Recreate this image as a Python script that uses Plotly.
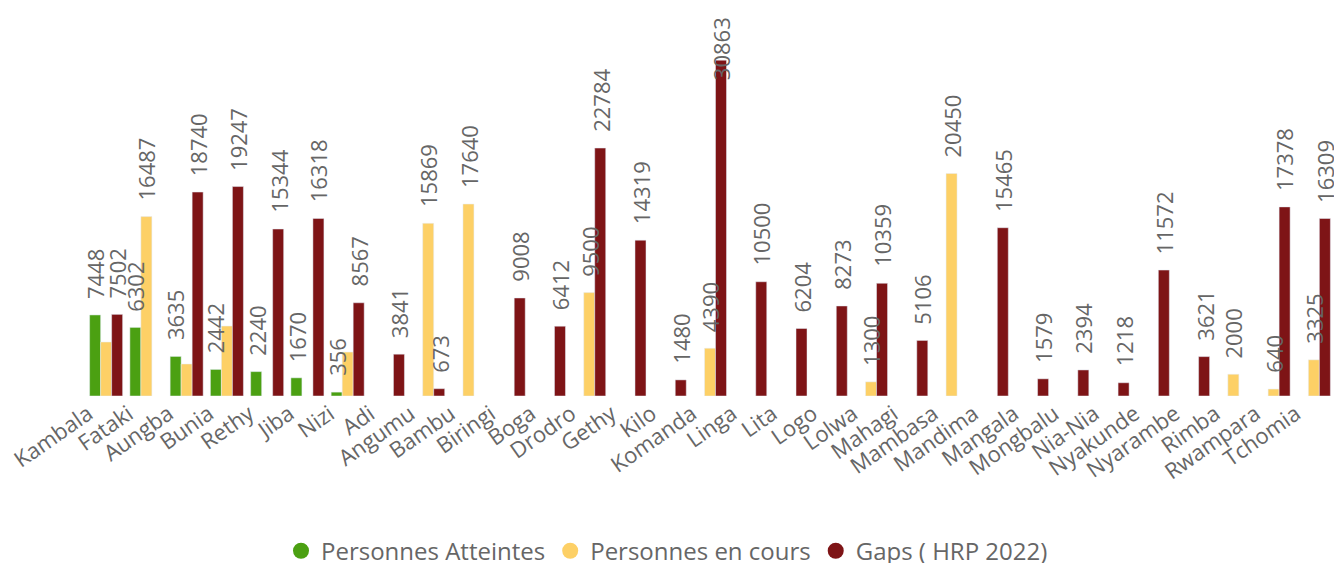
import plotly.graph_objects as go

categories = ["Kambala", "Fataki", "Aungba", "Bunia", "Rethy", "Jiba", "Nizi", "Adi", "Angumu",
              "Bambu", "Biringi", "Boga", "Drodro", "Gethy", "Kilo", "Komanda", "Linga", "Lita",
              "Logo", "Lolwa", "Mahagi", "Mambasa", "Mandima", "Mangala", "Mongbalu", "Nia-Nia",
              "Nyakunde", "Nyarambe", "Rimba", "Rwampara", "Tchomia"]

atteintes = [7448, 6302, 3635, 2442, 2240, 1670, 356, None, None, None, None, None, None, None,
             None, None, None, None, None, None, None, None, None, None, None, None, None, None,
             None, None, None]

en_cours = [4960, 16487, 2940, 6430, None, None, 4040, None, 15869, 17640, None, None, 9500, None,
            None, 4390, None, None, None, 1300, None, 20450, None, None, None, None, None, None,
            2000, 640, 3325]

gaps = [7502, None, 18740, 19247, 15344, 16318, 8567, 3841, 673, None, 9008, 6412, 22784, 14319,
        1480, 30863, 10500, 6204, 8273, 10359, 5106, None, 15465, 1579, 2394, 1218, 11572, 3621,
        None, 17378, 16309]

# data labels that the original chart hid because they overlapped
hidden_labels = {1: ["Kambala", "Aungba", "Bunia", "Nizi"]}
# data label that the original chart pulled down over the bar top (no room above)
overlapping_labels = {2: ["Komanda"]}

names = ["Personnes Atteintes", "Personnes en cours", "Gaps ( HRP 2022)"]
colors = ["#4BA012", "#FDD066", "#7E1416"]

FONT = "Segoe UI, Open Sans, sans-serif"
GREY = "#666666"
BAR_PX = 11.0      # pixel width of one bar inside a group (for label offsets)
LABEL_GAP = 15     # pixel gap between bar end and its label

fig = go.Figure()
series = [atteintes, en_cours, gaps]
for s, (vals, name, col) in enumerate(zip(series, names, colors)):
    fig.add_trace(go.Bar(
        x=categories, y=vals, name=name, marker_color=col,
        showlegend=False, hoverinfo="x+y+name",
    ))
    fig.add_trace(go.Scatter(
        x=[None], y=[None], mode="markers", name=name,
        marker=dict(color=col, size=18, symbol="circle"), showlegend=True,
    ))
    for c, v in zip(categories, vals):
        if v is None or c in hidden_labels.get(s, []):
            continue
        inside = c in overlapping_labels.get(s, [])
        fig.add_annotation(
            x=c, y=v, xref="x", yref="y", text=str(v), textangle=-90, showarrow=False,
            xshift=(s - 1) * BAR_PX,
            yanchor="middle" if inside else "bottom",
            yshift=11 if inside else LABEL_GAP,
            borderpad=0,
            font=dict(family=FONT, size=22, color=GREY),
        )

fig.update_layout(
    width=1334, height=563,
    margin=dict(l=86, r=0, t=0, b=167, autoexpand=False),
    paper_bgcolor="white", plot_bgcolor="white",
    barmode="group", bargap=0.18, bargroupgap=0,
    font=dict(family=FONT, color=GREY),
    legend=dict(orientation="h", xref="container", yref="container", x=0.5, xanchor="center",
                y=0.021, yanchor="middle", font=dict(family=FONT, size=24, color=GREY),
                itemsizing="trace"),
    xaxis=dict(type="category", range=[-0.5, len(categories) - 0.5],
               tickangle=-35, tickfont=dict(family=FONT, size=22, color=GREY), showline=False,
               showgrid=False, ticks="", zeroline=False, ticklabelshift=-18, automargin=False),
    yaxis=dict(range=[0, 36390], visible=False, showgrid=False, zeroline=False,
               automargin=False),
)

fig.write_html("out.html", config={"displayModeBar": False},
               post_script="document.body.style.margin='0';")
